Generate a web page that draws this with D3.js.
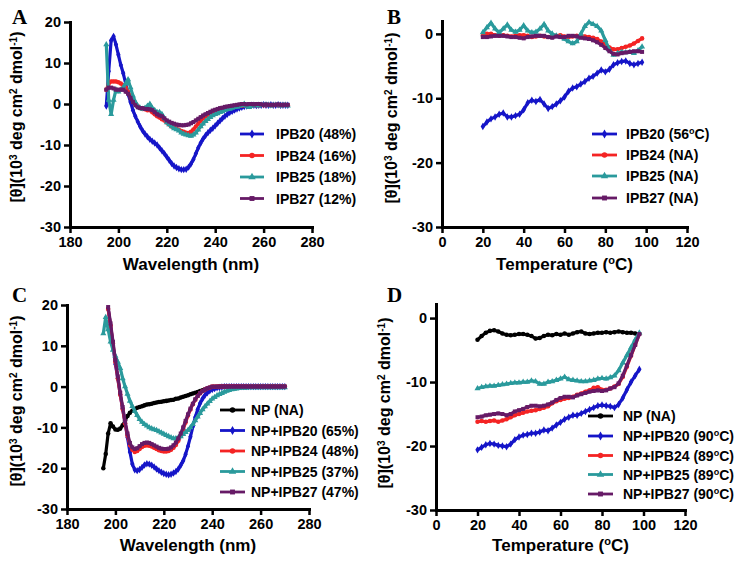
<!DOCTYPE html>
<html>
<head>
<meta charset="utf-8">
<script src="https://cdn.jsdelivr.net/npm/d3@7"></script>
<style>
  body { margin: 0; background: #fff; }
  svg { display: block; font-family: Arial, "Liberation Sans", sans-serif; font-weight: bold; }
</style>
</head>
<body>
<svg id="chart" width="750" height="562"></svg>
<script>
// x grids
const wavelength = d3.range(195, 271);      // nm, 1 nm steps
const temperature = d3.range(20, 100, 2);   // deg C, 2 deg steps

const wlTicks = [180, 200, 220, 240, 260, 280];
const tempTicks = [0, 20, 40, 60, 80, 100, 120];
const wlYTicks = [-30, -20, -10, 0, 10, 20];
const tempYTicks = [-30, -20, -10, 0];

// Panel A: peptides alone, CD spectra
const A_IPB20 = [-0.5, 8, 15.5, 16.5, 14.5, 12, 9.5, 7.5, 5, 2.5,
  0.5, -1.5, -3, -4.3, -5.5, -6.5, -7.3, -8, -8.6, -9.1,
  -9.5, -10, -10.7, -11.4, -12.1, -12.9, -13.7, -14.5, -15.1, -15.5,
  -15.8, -16, -16, -15.9, -15.4, -14.6, -13.5, -12.1, -10.7, -9.5,
  -8.5, -7.7, -7, -6.4, -5.9, -5.3, -4.7, -4.1, -3.5, -3,
  -2.5, -2.1, -1.8, -1.5, -1.2, -1, -0.8, -0.6, -0.5, -0.4,
  -0.3, -0.3, -0.4, -0.3, -0.3, -0.2, -0.3, -0.3, -0.2, -0.3,
  -0.3, -0.2, -0.3, -0.3, -0.3, -0.3];
const A_IPB24 = [3.5, 5, 5.5, 5.5, 5.5, 5.3, 5, 4.5, 4, 3,
  2, 1, 0.2, -0.5, -1, -1.2, -1.3, -1.5, -1.5, -2,
  -2.5, -3, -3.3, -3.7, -4, -4.5, -5, -5.5, -5.8, -6,
  -6.3, -6.6, -6.8, -7, -7.1, -6.8, -6.2, -5.5, -4.8, -4.1,
  -3.5, -3, -2.6, -2.3, -2, -1.8, -1.6, -1.4, -1.2, -1,
  -0.9, -0.8, -0.7, -0.6, -0.5, -0.5, -0.4, -0.3, -0.3, -0.4,
  -0.3, -0.2, -0.3, -0.3, -0.2, -0.3, -0.3, -0.2, -0.3, -0.3,
  -0.2, -0.3, -0.3, -0.3, -0.2, -0.3];
const A_IPB25 = [14.5, 1, -2.5, 1, 3.5, 3, 3.5, 4, 5, 6,
  4, 2, 0.5, -0.5, -1, -1.2, -1, -0.5, 0, -1,
  -1.5, -2, -2, -2.5, -3.5, -4.5, -5, -5.5, -6, -6.2,
  -6.5, -7, -7.3, -7.5, -7.7, -7.8, -7.5, -7, -6.3, -5.5,
  -4.8, -4.2, -3.7, -3.2, -2.8, -2.5, -2.3, -2, -1.8, -1.5,
  -1.3, -1.2, -1, -0.8, -0.7, -0.5, -0.3, 0, -0.5, -0.8,
  -0.5, -0.3, -0.3, -0.4, -0.3, -0.3, -0.2, -0.3, -0.4, -0.3,
  -0.3, -0.3, -0.4, -0.3, -0.3, -0.4];
const A_IPB27 = [3.5, 4, 4, 3.8, 3.5, 3.5, 3.5, 3.5, 3, 2.5,
  1.5, 0.5, -0.3, -0.8, -1, -1, -1.2, -1.2, -1.3, -1.5,
  -2, -2.5, -2.8, -3, -3.5, -4, -4.3, -4.6, -4.8, -5,
  -5.1, -5.2, -5.2, -5.1, -5, -4.7, -4.4, -4, -3.6, -3.2,
  -2.8, -2.5, -2.2, -1.9, -1.6, -1.4, -1.2, -1, -0.9, -0.7,
  -0.6, -0.5, -0.4, -0.3, -0.2, -0.1, 0, 0, -0.1, 0,
  0, -0.1, 0, 0, -0.1, -0.2, -0.1, -0.2, -0.2, -0.2,
  -0.2, -0.1, -0.2, -0.2, -0.2, -0.2];

// Panel B: peptides alone, thermal melt
const B_IPB20 = [-14.4, -13.7, -13.2, -12.9, -12.5, -12.3, -12.9, -12.9, -12.7, -12.5,
  -11.8, -10.7, -10.3, -10.5, -10.2, -10.9, -11.6, -11.3, -10.9, -10.4,
  -9.8, -8.9, -8.4, -8.2, -7.8, -7.4, -6.9, -6.6, -6.1, -5.6,
  -5.9, -5.5, -4.8, -4.5, -4.3, -4.2, -4.6, -4.8, -4.6, -4.4];
const B_IPB24 = [-0.3, 0, 0, -0.2, -0.3, -0.2, -0.3, -0.4, -0.3, -0.2,
  -0.2, -0.3, -0.5, -0.4, -0.3, -0.4, -0.5, -0.4, -0.3, -0.2,
  -0.4, -0.5, -0.4, -0.3, -0.3, -0.4, -0.5, -0.6, -0.8, -1.2,
  -1.6, -2.1, -2.4, -2.4, -2.2, -2, -1.8, -1.5, -1.1, -0.7];
const B_IPB25 = [0.2, 1, 1.7, 0.8, 0.2, 0.8, 1.4, 0.6, 0.3, 0.6,
  1.3, 0.5, 0.2, 0.3, 0.8, 1.5, 0.5, 0, -0.3, -0.5,
  -0.8, -1.2, -1.5, -1.2, 0, 1.2, 1.8, 1.5, 1.2, 0.5,
  -1, -2.5, -3.3, -3, -2.8, -2.9, -2.8, -3, -2.6, -2];
const B_IPB27 = [-0.5, -0.5, -0.4, -0.3, -0.3, -0.3, -0.4, -0.5, -0.5, -0.6,
  -0.7, -0.5, -0.4, -0.3, -0.3, -0.3, -0.5, -0.6, -0.4, -0.5,
  -0.5, -0.3, -0.3, -0.4, -0.6, -0.7, -0.8, -1, -1.3, -1.7,
  -2.2, -2.7, -3.1, -3.2, -3, -2.9, -2.8, -2.7, -2.7, -2.8];

// Panel C: NP with peptides, CD spectra
const C_NP = [-20, -16.5, -11.5, -9, -9.8, -10.5, -10.6, -10.3, -9.5, -8.3,
  -7.2, -6.4, -5.9, -5.5, -5.2, -5, -4.8, -4.6, -4.4, -4.3,
  -4.2, -4, -3.9, -3.8, -3.7, -3.6, -3.5, -3.4, -3.3, -3.2,
  -3, -2.9, -2.7, -2.5, -2.3, -2.1, -1.9, -1.7, -1.5, -1.3,
  -1.1, -0.9, -0.7, -0.5, -0.4, -0.3, -0.2, -0.1, 0, 0,
  0, 0, 0, 0, 0, 0, 0, 0, 0, 0,
  0, 0, 0, 0, 0, 0, 0, 0, 0, 0,
  0, 0, 0, 0, 0, 0];
const C_IPB20 = [null, null, 19, 15, 10, 5.5, 2, -2, -5.5, -9,
  -12.5, -16, -19, -20.4, -20.6, -20.3, -19.8, -19.2, -18.9, -19,
  -19.3, -19.7, -20.2, -20.6, -21, -21.3, -21.5, -21.6, -21.5, -21.2,
  -20.8, -20.2, -19.3, -18.2, -16.6, -14.6, -12.3, -9.8, -7.5, -5.6,
  -4.1, -3, -2.1, -1.5, -1, -0.7, -0.5, -0.3, -0.2, -0.1,
  0, 0, 0, 0, 0, 0, 0, 0, 0, 0,
  0, 0, 0, 0, 0, 0, 0, 0, 0, 0,
  0, 0, 0, 0, 0, 0];
const C_IPB24 = [null, null, 19, 15, 10.5, 6, 2, -2, -5.5, -9,
  -12, -14.3, -15.5, -16, -15.8, -15.3, -14.8, -14.5, -14.4, -14.5,
  -14.7, -15, -15.3, -15.6, -15.8, -15.9, -15.9, -15.8, -15.5, -15,
  -14.3, -13.3, -12, -10.5, -8.8, -7.1, -5.6, -4.3, -3.2, -2.3,
  -1.6, -1.1, -0.7, -0.4, -0.2, 0, 0, 0, 0, 0,
  0, 0, 0, 0, 0, 0, 0, 0, 0, 0,
  0, 0, 0, 0, 0, 0, 0, 0, 0, 0,
  0, 0, 0, 0, 0, 0];
const C_IPB25 = [13, 17, 14, 11, 9, 7.5, 6, 4.5, 2, 0,
  -1.8, -3.5, -4.8, -6, -7, -8, -8.7, -9.2, -9.6, -10,
  -10.3, -10.5, -10.7, -11, -11.3, -11.6, -11.9, -12.2, -12.5, -12.7,
  -12.7, -12.5, -12.2, -11.7, -11.2, -10.7, -10, -9.2, -8.3, -7.4,
  -6.5, -5.6, -4.9, -4.2, -3.6, -3, -2.6, -2.2, -1.9, -1.6,
  -1.3, -1.1, -0.9, -0.7, -0.6, -0.5, -0.4, -0.3, -0.3, -0.3,
  -0.2, -0.2, -0.2, -0.2, -0.2, -0.2, -0.2, -0.2, -0.2, -0.2,
  -0.2, -0.2, -0.2, -0.2, -0.2, -0.2];
const C_IPB27 = [null, null, 19.5, 15.5, 11, 6.5, 2.5, -1.5, -5, -8.5,
  -11.5, -13.8, -14.9, -15.3, -15.1, -14.6, -14.1, -13.8, -13.7, -13.8,
  -14.1, -14.4, -14.7, -15, -15.2, -15.3, -15.3, -15.2, -14.9, -14.4,
  -13.7, -12.7, -11.5, -10, -8.4, -6.8, -5.4, -4.2, -3.1, -2.3,
  -1.6, -1.1, -0.7, -0.4, -0.2, 0, 0, 0, 0, 0,
  0, 0, 0, 0, 0, 0, 0, 0, 0, 0,
  0, 0, 0, 0, 0, 0, 0, 0, 0, 0,
  0, 0, 0, 0, 0, 0];

// Panel D: NP with peptides, thermal melt
const D_NP = [-3.4, -2.8, -2.3, -2, -1.9, -2.1, -2.4, -2.6, -2.7, -2.6,
  -2.5, -2.5, -2.6, -2.8, -3.2, -3.1, -2.8, -2.6, -2.7, -2.5,
  -2.6, -2.4, -2.6, -2.4, -2.2, -2.1, -2.4, -2.5, -2.4, -2.3,
  -2.3, -2.2, -2.3, -2.2, -2.1, -2.2, -2.3, -2.3, -2.4, -2.5];
const D_IPB20 = [-20.6, -20.2, -19.8, -19.6, -19.7, -19.9, -20, -20.1, -19.7, -19,
  -18.6, -18.3, -18.2, -18, -18, -17.8, -17.5, -17.6, -17.2, -16.7,
  -16.3, -15.8, -15.5, -15.2, -15.2, -14.9, -14.6, -14.3, -14, -13.7,
  -13.6, -13.7, -13.8, -14, -13.5, -12.5, -11.2, -10, -9, -8];
const D_IPB24 = [-16.2, -16.1, -16.2, -16.1, -16, -16.2, -16, -15.8, -15.5, -15.2,
  -15, -14.8, -14.6, -14.5, -14.4, -14.2, -14, -13.8, -13.3, -13,
  -12.8, -12.6, -12.5, -12.3, -12, -11.8, -11.5, -11.3, -10.9, -10.8,
  -11.2, -11.2, -11, -10.7, -10.3, -9.2, -7.6, -5.9, -4.2, -2.5];
const D_IPB25 = [-11, -10.8, -10.7, -10.6, -10.6, -10.5, -10.4, -10.3, -10.2, -10.1,
  -10.1, -10, -10, -9.8, -9.9, -10.3, -10.3, -10, -9.9, -9.7,
  -9.5, -9.2, -9.6, -9.7, -9.8, -9.9, -9.9, -9.8, -9.7, -9.5,
  -9.4, -9.5, -9.3, -9, -8.2, -7, -5.8, -4.6, -3.4, -2.3];
const D_IPB27 = [-15.5, -15.4, -15.2, -15.1, -15, -14.9, -15, -15.2, -15, -14.6,
  -14.4, -14.2, -13.9, -13.7, -13.7, -13.8, -13.7, -13.5, -13.2, -12.8,
  -12.5, -12.3, -12.3, -12.4, -12.1, -11.9, -11.7, -11.5, -11.4, -11.3,
  -11.4, -11.3, -11, -10.8, -10.2, -9, -7.4, -5.8, -4.2, -2.5];

const labelsA = ['IPB20 (48%)', 'IPB24 (16%)', 'IPB25 (18%)', 'IPB27 (12%)'];
const labelsB = ['IPB20 (56{o}C)', 'IPB24 (NA)', 'IPB25 (NA)', 'IPB27 (NA)'];
const labelsC = ['NP (NA)', 'NP+IPB20 (65%)', 'NP+IPB24 (48%)', 'NP+IPB25 (37%)', 'NP+IPB27 (47%)'];
const labelsD = ['NP (NA)', 'NP+IPB20 (90{o}C)', 'NP+IPB24 (89{o}C)', 'NP+IPB25 (89{o}C)', 'NP+IPB27 (90{o}C)'];

const yTitle = '[θ](10{3} deg cm{2} dmol{-1})';

const style = {
  NP:    { color: '#000000', symbol: d3.symbolCircle },
  IPB20: { color: '#1515c8', symbol: d3.symbolDiamond },
  IPB24: { color: '#f42424', symbol: d3.symbolCircle },
  IPB25: { color: '#2a9a9c', symbol: d3.symbolTriangle },
  IPB27: { color: '#661a66', symbol: d3.symbolSquare }
};

const svg = d3.select('#chart');

// text with {superscript} segments
function richText(sel, str, supSize) {
  str.split(/(\{[^}]*\})/).filter(s => s.length).forEach(part => {
    if (part[0] === '{') {
      sel.append('tspan').attr('baseline-shift', 'super').attr('font-size', supSize).text(part.slice(1, -1));
    } else {
      sel.append('tspan').text(part);
    }
  });
}

function drawPanel(p) {
  const g = svg.append('g');
  const x = d3.scaleLinear().domain(p.xDomain).range(p.xRange);
  const y = d3.scaleLinear().domain(p.yDomain).range(p.yRange);

  // series (legend order, last on top)
  p.series.forEach(s => {
    const st = style[s.key];
    const pts = p.xs.map((v, i) => [v, s.values[i]]).filter(d => d[1] != null);
    g.append('path')
      .datum(pts)
      .attr('fill', 'none')
      .attr('stroke', st.color)
      .attr('stroke-width', 3.2)
      .attr('stroke-linejoin', 'round')
      .attr('d', d3.line().x(d => x(d[0])).y(d => y(d[1])));
    g.append('g').selectAll('path')
      .data(pts)
      .join('path')
      .attr('transform', d => `translate(${x(d[0])},${y(d[1])})`)
      .attr('d', d3.symbol(st.symbol, 16)())
      .attr('fill', st.color);
  });

  // axes
  const xAxis = g.append('g')
    .attr('transform', `translate(0,${p.yRange[0]})`)
    .call(d3.axisBottom(x).tickValues(p.xTicks).tickSize(6).tickSizeOuter(0).tickPadding(4).tickFormat(d => String(d)));
  const yAxis = g.append('g')
    .attr('transform', `translate(${p.xRange[0]},0)`)
    .call(d3.axisLeft(y).tickValues(p.yTicks).tickSize(6).tickSizeOuter(0).tickPadding(3).tickFormat(d => String(d)));
  [xAxis, yAxis].forEach(a => {
    a.select('.domain').attr('stroke', '#000').attr('stroke-width', 3).attr('stroke-linecap', 'square');
    a.selectAll('.tick line').attr('stroke', '#000').attr('stroke-width', 2.5);
    a.selectAll('.tick text').attr('fill', '#000').attr('font-size', 14.5).attr('font-weight', 'bold')
      .attr('font-family', 'Arial, "Liberation Sans", sans-serif');
  });

  // axis titles
  const xt = g.append('text')
    .attr('x', (p.xRange[0] + p.xRange[1]) / 2)
    .attr('y', p.xTitleY)
    .attr('text-anchor', 'middle')
    .attr('font-size', 17);
  richText(xt, p.xTitle, 11);

  const yt = g.append('text')
    .attr('transform', `translate(${p.yTitleX},${p.yTitleY}) rotate(-90)`)
    .attr('text-anchor', 'middle')
    .attr('font-size', 16);
  richText(yt, yTitle, 10);

  // panel letter
  g.append('text')
    .attr('x', p.letterX).attr('y', p.letterY)
    .attr('font-family', '"Liberation Serif", "DejaVu Serif", serif')
    .attr('font-size', 21)
    .attr('font-weight', 'bold')
    .text(p.letter);

  // legend
  p.series.forEach((s, i) => {
    const st = style[s.key];
    const ry = p.legend.rows[i];
    g.append('line')
      .attr('x1', p.legend.x1).attr('x2', p.legend.x2)
      .attr('y1', ry).attr('y2', ry)
      .attr('stroke', st.color).attr('stroke-width', 2.8);
    g.append('path')
      .attr('transform', `translate(${(p.legend.x1 + p.legend.x2) / 2},${ry})`)
      .attr('d', d3.symbol(st.symbol, 24)())
      .attr('fill', st.color);
    const t = g.append('text')
      .attr('x', p.legend.tx).attr('y', ry + 5)
      .attr('font-size', 14);
    richText(t, s.label, 9);
  });
}

drawPanel({
  letter: 'A', letterX: 12, letterY: 24,
  xs: wavelength, xDomain: [180, 280], xRange: [70, 312], xTicks: wlTicks,
  yDomain: [-30, 20], yRange: [227, 22], yTicks: wlYTicks,
  xTitle: 'Wavelength (nm)', xTitleY: 270, yTitleX: 22, yTitleY: 117,
  legend: { x1: 240, x2: 264, tx: 276, rows: [134, 155.5, 177, 198.5] },
  series: [
    { key: 'IPB20', values: A_IPB20, label: labelsA[0] },
    { key: 'IPB24', values: A_IPB24, label: labelsA[1] },
    { key: 'IPB25', values: A_IPB25, label: labelsA[2] },
    { key: 'IPB27', values: A_IPB27, label: labelsA[3] }
  ]
});

drawPanel({
  letter: 'B', letterX: 387, letterY: 24,
  xs: temperature, xDomain: [0, 120], xRange: [442, 687], xTicks: tempTicks,
  yDomain: [-30, 2], yRange: [227, 21], yTicks: tempYTicks,
  xTitle: 'Temperature ({o}C)', xTitleY: 270, yTitleX: 397, yTitleY: 118,
  legend: { x1: 592, x2: 617, tx: 626, rows: [134, 155, 176, 198] },
  series: [
    { key: 'IPB20', values: B_IPB20, label: labelsB[0] },
    { key: 'IPB24', values: B_IPB24, label: labelsB[1] },
    { key: 'IPB25', values: B_IPB25, label: labelsB[2] },
    { key: 'IPB27', values: B_IPB27, label: labelsB[3] }
  ]
});

drawPanel({
  letter: 'C', letterX: 12, letterY: 302,
  xs: wavelength, xDomain: [180, 280], xRange: [67, 309], xTicks: wlTicks,
  yDomain: [-30, 20], yRange: [509, 305], yTicks: wlYTicks,
  xTitle: 'Wavelength (nm)', xTitleY: 551, yTitleX: 22, yTitleY: 401,
  legend: { x1: 220, x2: 245, tx: 251, rows: [410, 430.5, 451, 471.5, 492] },
  series: [
    { key: 'NP', values: C_NP, label: labelsC[0] },
    { key: 'IPB20', values: C_IPB20, label: labelsC[1] },
    { key: 'IPB24', values: C_IPB24, label: labelsC[2] },
    { key: 'IPB25', values: C_IPB25, label: labelsC[3] },
    { key: 'IPB27', values: C_IPB27, label: labelsC[4] }
  ]
});

drawPanel({
  letter: 'D', letterX: 387, letterY: 302,
  xs: temperature, xDomain: [0, 120], xRange: [436, 685], xTicks: tempTicks,
  yDomain: [-30, 2.2], yRange: [510, 304], yTicks: tempYTicks,
  xTitle: 'Temperature ({o}C)', xTitleY: 551, yTitleX: 390, yTitleY: 403,
  legend: { x1: 588, x2: 613, tx: 623, rows: [416, 436, 455.5, 474.5, 494] },
  series: [
    { key: 'NP', values: D_NP, label: labelsD[0] },
    { key: 'IPB20', values: D_IPB20, label: labelsD[1] },
    { key: 'IPB24', values: D_IPB24, label: labelsD[2] },
    { key: 'IPB25', values: D_IPB25, label: labelsD[3] },
    { key: 'IPB27', values: D_IPB27, label: labelsD[4] }
  ]
});
</script>
</body>
</html>
